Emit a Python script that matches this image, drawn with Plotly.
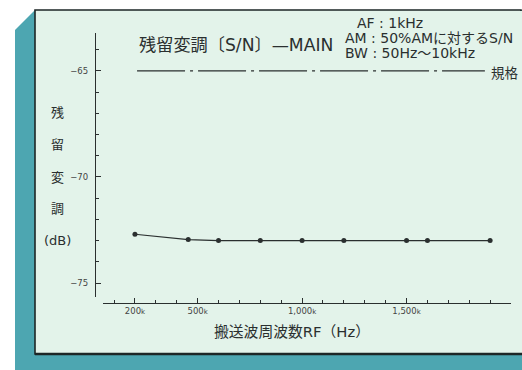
import plotly.graph_objects as go

# ---- data ----
rf_khz = [200, 455, 600, 800, 1000, 1200, 1500, 1600, 1900]
residual_db = [-72.7, -72.95, -73.0, -73.0, -73.0, -73.0, -73.0, -73.0, -73.0]
spec_x = [210, 1875]
spec_db = [-65, -65]
x_tickvals = [200, 500, 1000, 1500, 2000]
x_ticktext = ["200<span style='font-size:7px'>k</span>", "500<span style='font-size:7px'>k</span>",
              "1,000<span style='font-size:7px'>k</span>", "1,500<span style='font-size:7px'>k</span>", "2,000"]
x_minor = [100, 300, 400, 600, 700, 800, 900, 1100, 1200, 1300, 1400, 1600, 1700, 1800, 1900]
y_tickvals = [-65, -70, -75]
y_ticktext = ["−65", "−70", "−75"]
ylabel_chars = ["残", "留", "変", "調", "(dB)"]

W, H = 522, 370
def px(x):
    return x / W
def py(y):
    return 1 - y / H

INK = "#2a2f2f"
MINT = "#e3f3ea"
TEAL = "#4da6b1"
FONT = "DejaVu Sans, Noto Sans CJK JP"
CJK = "Noto Sans CJK JP"
TICKF = "DejaVu Sans"

fig = go.Figure()

fig.add_trace(go.Scatter(
    x=spec_x, y=spec_db, mode="lines",
    line=dict(color=INK, width=1.2, dash="48px,5px,3px,5px"),
    hoverinfo="skip", showlegend=False, cliponaxis=False))

fig.add_trace(go.Scatter(
    x=rf_khz, y=residual_db, mode="lines+markers",
    line=dict(color=INK, width=1.2),
    marker=dict(color=INK, size=5),
    showlegend=False, cliponaxis=False))

shapes = [
    dict(type="path", xref="paper", yref="paper",
         path=f"M {px(15)},{py(30)} L {px(35)},{py(10)} L {px(522)},{py(10)} L {px(522)},{py(370)} L {px(15)},{py(370)} Z",
         fillcolor=TEAL, line=dict(width=0), layer="below"),
    dict(type="rect", xref="paper", yref="paper",
         x0=px(35), y0=py(354), x1=px(521), y1=py(10),
         fillcolor=MINT, line=dict(color="#1d2626", width=1.6), layer="below"),
    dict(type="rect", xref="paper", yref="paper",
         x0=px(500), y0=py(353), x1=px(522), y1=py(11),
         fillcolor=MINT, line=dict(width=0), layer="below"),
    dict(type="line", xref="paper", yref="paper",
         x0=px(35), y0=py(354), x1=px(522), y1=py(354),
         line=dict(color="#1d2626", width=2.5), layer="below"),
]

annotations = [
    dict(text="残留変調〔S/N〕—MAIN", x=px(137), y=py(45), xanchor="left", yanchor="middle",
         font=dict(size=17.2, color=INK, family=FONT)),
    dict(text="AF : 1kHz", x=px(355), y=py(23), xanchor="left", yanchor="middle",
         font=dict(size=14, color=INK, family=FONT)),
    dict(text="AM : 50%AMに対するS/N", x=px(343), y=py(38), xanchor="left", yanchor="middle",
         font=dict(size=14, color=INK, family=FONT)),
    dict(text="BW : 50Hz～10kHz", x=px(343), y=py(53), xanchor="left", yanchor="middle",
         font=dict(size=14, color=INK, family=FONT)),
    dict(text="規格", x=px(489), y=py(72), xanchor="left", yanchor="middle",
         font=dict(size=13.5, color=INK, family=CJK)),
    dict(text="搬送波周波数RF（Hz）", x=px(292), y=py(331), xanchor="center", yanchor="middle",
         font=dict(size=14.8, color=INK, family=FONT)),
]
for ch, yy in zip(ylabel_chars, [112, 144, 177, 208, 240]):
    annotations.append(dict(text=ch, x=px(57), y=py(yy), xanchor="center", yanchor="middle",
                            font=dict(size=13, color=INK, family=FONT)))
for a in annotations:
    a.update(xref="paper", yref="paper", showarrow=False)

fig.update_layout(
    width=W, height=H,
    margin=dict(l=0, r=0, t=0, b=0),
    paper_bgcolor="white", plot_bgcolor="rgba(0,0,0,0)",
    shapes=shapes, annotations=annotations,
    xaxis=dict(domain=[px(103), px(511)], range=[47, 2000], anchor="free", position=py(303),
               showline=True, linecolor=INK, linewidth=1.2,
               ticks="inside", ticklen=5, tickwidth=1, tickcolor=INK,
               tickvals=x_tickvals, ticktext=x_ticktext,
               tickfont=dict(size=8.5, color="#444", family=TICKF),
               minor=dict(tickvals=x_minor, ticks="inside", ticklen=3, tickwidth=1, tickcolor=INK),
               showgrid=False, zeroline=False, fixedrange=True),
    yaxis=dict(domain=[py(297), py(33)], range=[-75.66, -63.21], anchor="free", position=px(95),
               showline=True, linecolor=INK, linewidth=1.2,
               ticks="inside", ticklen=5, tickwidth=1, tickcolor=INK,
               tickvals=y_tickvals, ticktext=y_ticktext, ticklabelstandoff=5,
               tickfont=dict(size=8.5, color="#444", family=TICKF),
               minor=dict(dtick=1, tick0=0, ticks="inside", ticklen=3, tickwidth=1, tickcolor=INK),
               showgrid=False, zeroline=False, fixedrange=True),
)

fig.write_html("out.html", config={"displayModeBar": False},
               post_script="document.body.style.margin='0';document.body.style.overflow='hidden';")
